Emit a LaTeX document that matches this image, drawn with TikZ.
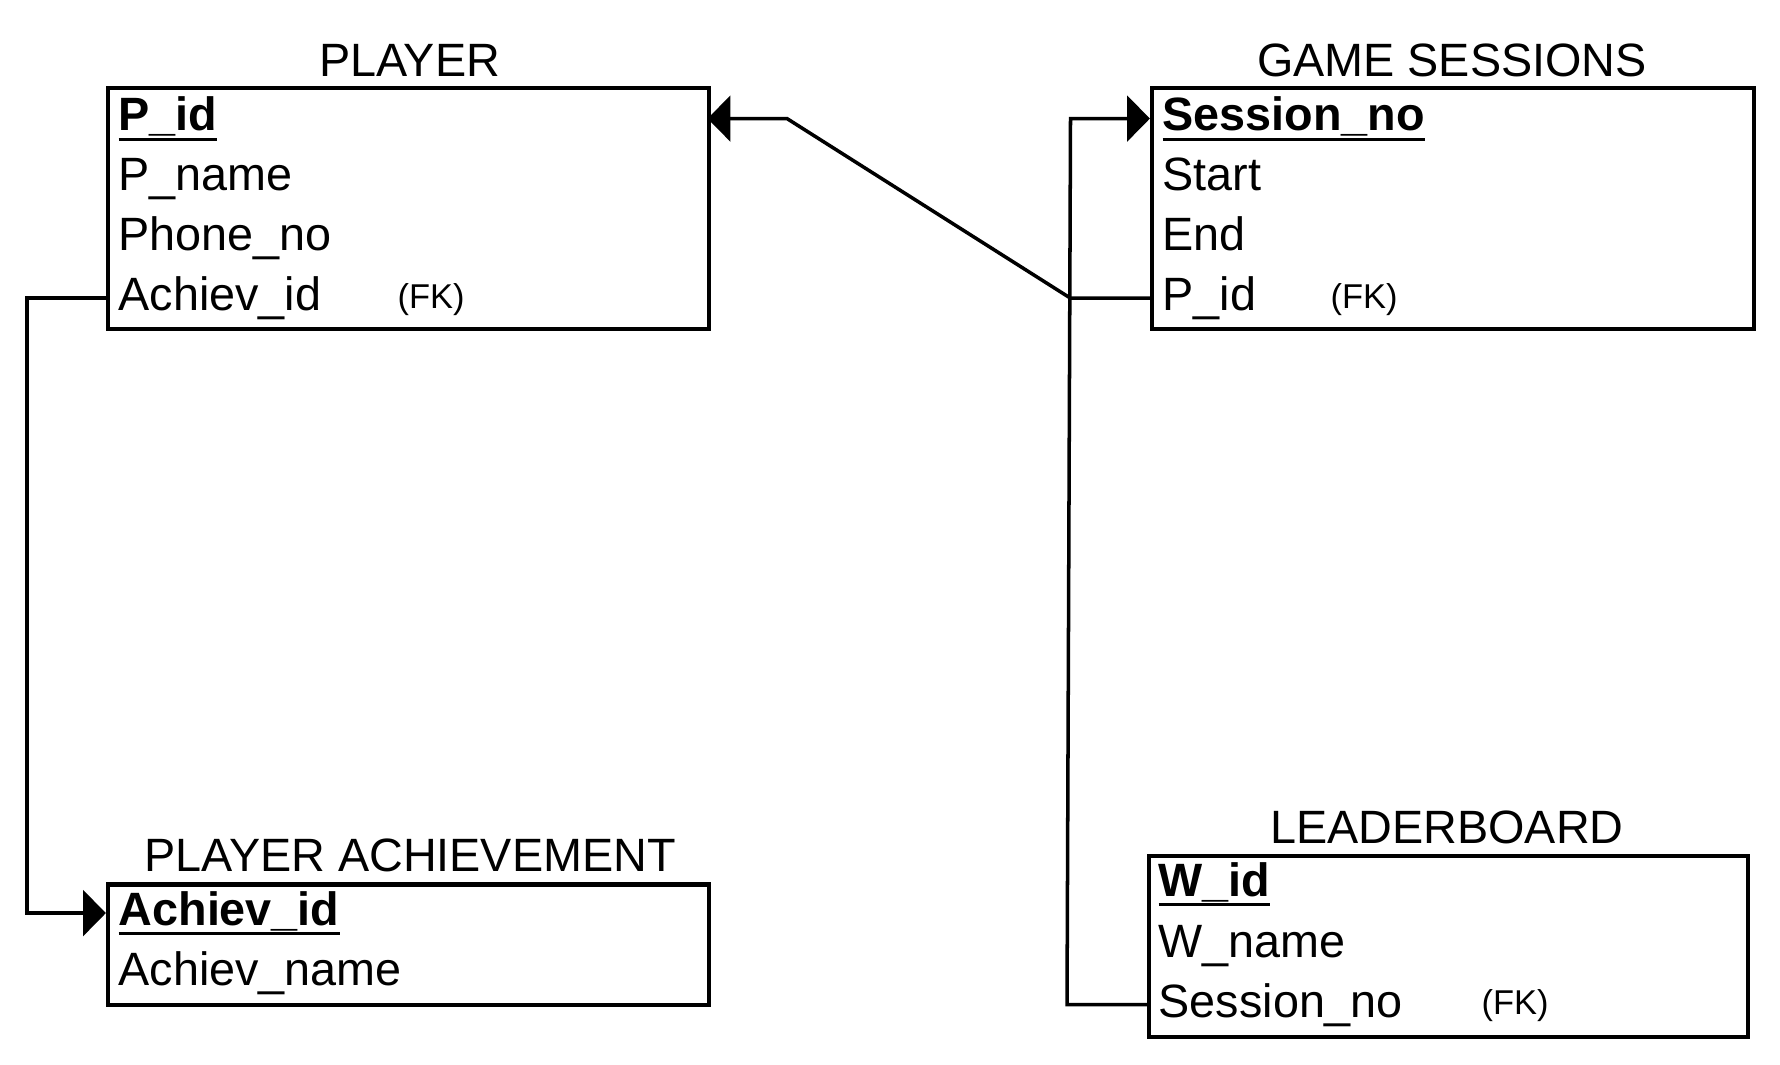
\documentclass[tikz,border=0pt]{standalone}
\usepackage{fontspec}
\setmainfont{Liberation Sans}
\usetikzlibrary{arrows.meta}
\newcommand\pkey[1]{\setbox0\hbox{\bfseries #1}\rlap{\rule[-2.85pt]{\wd0}{0.85pt}}\box0}

\begin{document}
\begin{tikzpicture}[x=0.1mm,y=-0.1mm,line join=miter,>={Triangle[length=6.5pt,width=13pt]},
  tbl/.style={draw,line width=1.2pt,inner sep=0pt},
  fld/.style={anchor=base west,inner sep=0pt,font=\fontsize{13.3}{16}\selectfont},
  ttl/.style={anchor=base,inner sep=0pt,font=\fontsize{13.3}{16}\selectfont},
  fk/.style={anchor=base west,inner sep=0pt,font=\fontsize{9.8}{12}\selectfont},
  link/.style={line width=1pt}]
\useasboundingbox (0,0) rectangle (1780,1064);
% tables
\node[tbl,minimum width=60.1mm,minimum height=24.1mm] (player) at (408.5,208.5) {};
\node[tbl,minimum width=60.2mm,minimum height=24.1mm] (gs) at (1453,208.5) {};
\node[tbl,minimum width=60.1mm,minimum height=12.05mm] (pa) at (408.5,944.75) {};
\node[tbl,minimum width=59.9mm,minimum height=18.1mm] (lb) at (1448.5,946.5) {};
% titles
\node[ttl] (tplayer) at (409.5,76) {PLAYER};
\node[ttl] (tgs) at (1452,76) {GAME SESSIONS};
\node[ttl] (tpa) at (410,871) {PLAYER ACHIEVEMENT};
\node[ttl] (tlb) at (1447,843) {LEADERBOARD};
% PLAYER
\node[fld] (pid) at (118,130.5) {\pkey{P\_id}};
\node[fld] (pname) at (118,190.5) {P\_name};
\node[fld] (pphone) at (118,250.5) {Phone\_no};
\node[fld] (pachiev) at (118,310.5) {Achiev\_id};
\node[fk] (pfk) at (397,308) {(FK)};
% GAME SESSIONS
\node[fld] (gsess) at (1162,130.5) {\pkey{Session\_no}};
\node[fld] (gstart) at (1162,190.5) {Start};
\node[fld] (gend) at (1162,250.5) {End};
\node[fld] (gpid) at (1162,310.5) {P\_id};
\node[fk] (gfk) at (1330,308) {(FK)};
% PLAYER ACHIEVEMENT
\node[fld] (achid) at (118,925) {\pkey{Achiev\_id}};
\node[fld] (achname) at (118,985) {Achiev\_name};
% LEADERBOARD
\node[fld] (wid) at (1158,896) {\pkey{W\_id}};
\node[fld] (wname) at (1158,957) {W\_name};
\node[fld] (lsess) at (1158,1017) {Session\_no};
\node[fk] (lfk) at (1481,1014) {(FK)};
% connectors
\coordinate (lbus) at (27,0);
\coordinate (rbus) at (1070.5,0);
\coordinate (rbusb) at (1067,0);
\coordinate (knee) at (787,0);
\draw[link,->] (player.west |- pachiev) -- (lbus |- pachiev) -- (lbus |- achid) -- (pa.west |- achid);
\draw[link,->] (gs.west |- gpid) -- (rbus |- gpid) -- (knee |- pid) -- ([xshift=-1pt]player.east |- pid);
\draw[link,->] (lb.west |- lsess) -- (rbusb |- lsess) -- (rbus |- gsess) -- (gs.west |- gsess);
\end{tikzpicture}
\end{document}
